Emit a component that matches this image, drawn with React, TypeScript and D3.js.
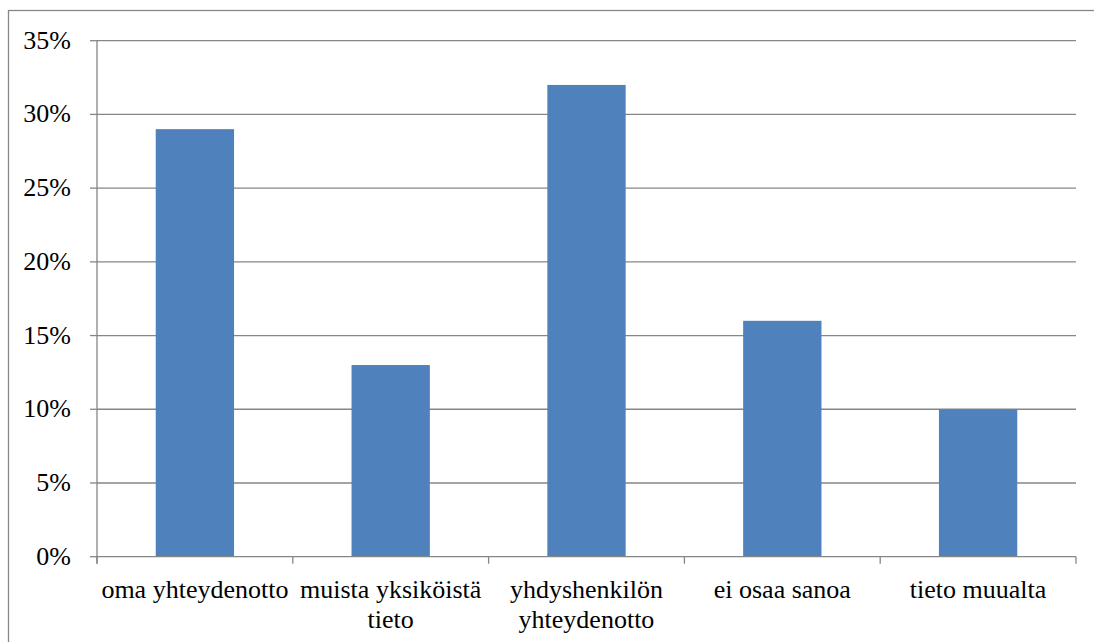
import React from "react";
import * as d3 from "d3";

const categories = [
  "oma yhteydenotto",
  "muista yksiköistä tieto",
  "yhdyshenkilön yhteydenotto",
  "ei osaa sanoa",
  "tieto muualta",
];
const values = [29, 13, 32, 16, 10];
const yTicks = [0, 5, 10, 15, 20, 25, 30, 35];

const W = 1094;
const H = 642;
const FONT = "Liberation Serif";
const FS = 26;

// approximate wrap width using a Times-like average glyph width
function wrap(text: string, maxW: number): string[] {
  const cw = FS * 0.42;
  const words = text.split(" ");
  const lines: string[] = [];
  let cur = "";
  for (const w of words) {
    const t = cur ? cur + " " + w : w;
    if (t.length * cw > maxW && cur) {
      lines.push(cur);
      cur = w;
    } else cur = t;
  }
  if (cur) lines.push(cur);
  return lines;
}

export default function App() {
  const left = 97;
  const right = 1076;
  const top = 40.7;
  const bottom = 556.7;

  const x = d3
    .scaleBand<string>()
    .domain(categories)
    .range([left, right])
    .paddingInner(0.6)
    .paddingOuter(0.3);
  const y = d3.scaleLinear().domain([0, 35]).range([bottom, top]);
  const step = x.step();
  const boundaries = d3.range(categories.length + 1).map((i) => left + i * step);
  const wrapped = categories.map((c) => wrap(c, step));

  const gridColor = "#868686";
  const textStyle = { fontFamily: FONT, fontSize: FS };

  return (
    <svg width={W} height={H} style={{ position: "absolute", left: 0, top: 0 }}>
      <rect x={8.5} y={10.5} width={W + 20} height={H + 20} fill="#fff" stroke="#878787" strokeWidth={1.3} />
      {yTicks.map((t) => (
        <g key={t}>
          {t > 0 && (
            <line x1={left} x2={right} y1={y(t)} y2={y(t)} stroke={gridColor} strokeWidth={1.3} />
          )}
          <line x1={left - 7} x2={left} y1={y(t)} y2={y(t)} stroke={gridColor} strokeWidth={1.3} />
          <text x={71} y={y(t) + 8} textAnchor="end" style={textStyle} fill="#000">
            {t}%
          </text>
        </g>
      ))}
      {categories.map((c, i) => (
        <rect
          key={c}
          x={x(c)!}
          y={y(values[i])}
          width={x.bandwidth()}
          height={y(0) - y(values[i])}
          fill="#4F81BD"
        />
      ))}
      <line x1={left} x2={left} y1={top} y2={bottom + 7} stroke={gridColor} strokeWidth={1.3} />
      <line x1={left} x2={right} y1={bottom} y2={bottom} stroke={gridColor} strokeWidth={1.3} />
      {boundaries.map((b, i) => (
        <line key={i} x1={b} x2={b} y1={bottom} y2={bottom + 7} stroke={gridColor} strokeWidth={1.3} />
      ))}
      {categories.map((c, i) => (
        <text key={c} textAnchor="middle" style={textStyle} fill="#000">
          {wrapped[i].map((l, j) => (
            <tspan key={j} x={x(c)! + x.bandwidth() / 2} y={598 + j * 29.5}>
              {l}
            </tspan>
          ))}
        </text>
      ))}
    </svg>
  );
}
